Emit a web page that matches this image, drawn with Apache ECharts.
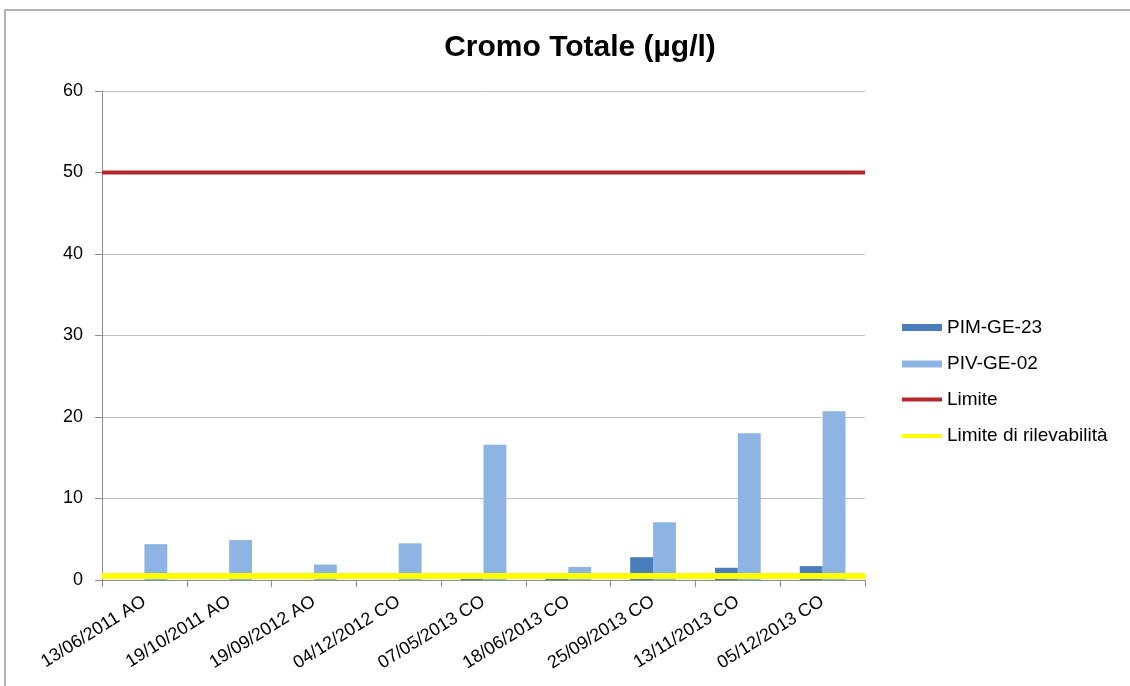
<!DOCTYPE html>
<html><head><meta charset="utf-8">
<script src="https://cdn.jsdelivr.net/npm/echarts@6/dist/echarts.min.js"></script>
<style>html,body{margin:0;padding:0;background:#fff}#c{width:1130px;height:686px}</style>
</head><body><div id="c"></div>
<script>
const categories = ['13/06/2011 AO','19/10/2011 AO','19/09/2012 AO','04/12/2012 CO','07/05/2013 CO','18/06/2013 CO','25/09/2013 CO','13/11/2013 CO','05/12/2013 CO'];
const pimGE23 = [null, null, null, null, 0.3, 0.3, 2.8, 1.5, 1.7];
const pivGE02 = [4.4, 4.9, 1.9, 4.5, 16.6, 1.6, 7.1, 18.0, 20.7];
const limite = 50;
const limiteRilevabilita = 0.5;
const yTicks = [0, 10, 20, 30, 40, 50, 60];

const chart = echarts.init(document.getElementById('c'));
const font = 'Liberation Sans, Arial, sans-serif';
const legendText = { fontFamily: font, fontSize: 19, color: '#000' };
chart.setOption({
  animation: false,
  title: { text: 'Cromo Totale (µg/l)', left: 575, top: 28, textAlign: 'center',
    textStyle: { fontFamily: font, fontSize: 30, fontWeight: 'bold', color: '#000' } },
  graphic: [{ type: 'rect', shape: { x: 5, y: 10, width: 1140, height: 700 },
    style: { fill: null, stroke: '#9a9a9a', lineWidth: 1.5 }, silent: true }],
  legend: [{
    orient: 'vertical', left: 897, top: 313, itemGap: 17.5, itemWidth: 40, itemHeight: 7,
    textStyle: legendText, icon: 'rect',
    data: ['PIM-GE-23', 'PIV-GE-02']
  }, {
    orient: 'vertical', left: 897, top: 385, itemGap: 17.5, itemWidth: 40, itemHeight: 4,
    textStyle: legendText, icon: 'rect',
    data: ['Limite', 'Limite di rilevabilità']
  }],
  grid: { left: 102, right: 265, top: 91, bottom: 106 },
  xAxis: [{
    type: 'category', data: categories, boundaryGap: true,
    axisLine: { lineStyle: { color: '#8c8c8c' } },
    axisTick: { show: true, alignWithLabel: false, length: 7, lineStyle: { color: '#8c8c8c' } },
    axisLabel: { rotate: 32, fontFamily: font, fontSize: 18, color: '#000', margin: 20, interval: 0 }
  }, {
    type: 'value', min: 0, max: 1, show: false
  }],
  yAxis: {
    type: 'value', min: 0, max: 60, interval: 10,
    axisLine: { show: true, lineStyle: { color: '#8c8c8c' } },
    axisTick: { show: true, length: 7, lineStyle: { color: '#8c8c8c' } },
    splitLine: { lineStyle: { color: '#bcbcbc' } },
    axisLabel: { fontFamily: font, fontSize: 18, color: '#000', margin: 19,
      formatter: v => yTicks.includes(v) ? String(v) : '' }
  },
  series: [
    { name: 'PIM-GE-23', type: 'bar', data: pimGE23, barGap: '0%', barCategoryGap: '46%',
      itemStyle: { color: '#4a7ebb' } },
    { name: 'PIV-GE-02', type: 'bar', data: pivGE02, barGap: '0%', barCategoryGap: '46%',
      itemStyle: { color: '#8db4e2' } },
    { name: 'Limite', type: 'line', xAxisIndex: 1, symbol: 'none', z: 5,
      data: [[0, limite], [1, limite]],
      lineStyle: { color: '#b3282d', width: 4 }, itemStyle: { color: '#b3282d' } },
    { name: 'Limite di rilevabilità', type: 'line', xAxisIndex: 1, symbol: 'none', z: 6,
      data: [[0, limiteRilevabilita], [1, limiteRilevabilita]],
      lineStyle: { color: '#ffff00', width: 6 }, itemStyle: { color: '#ffff00' } }
  ]
});
</script></body></html>
